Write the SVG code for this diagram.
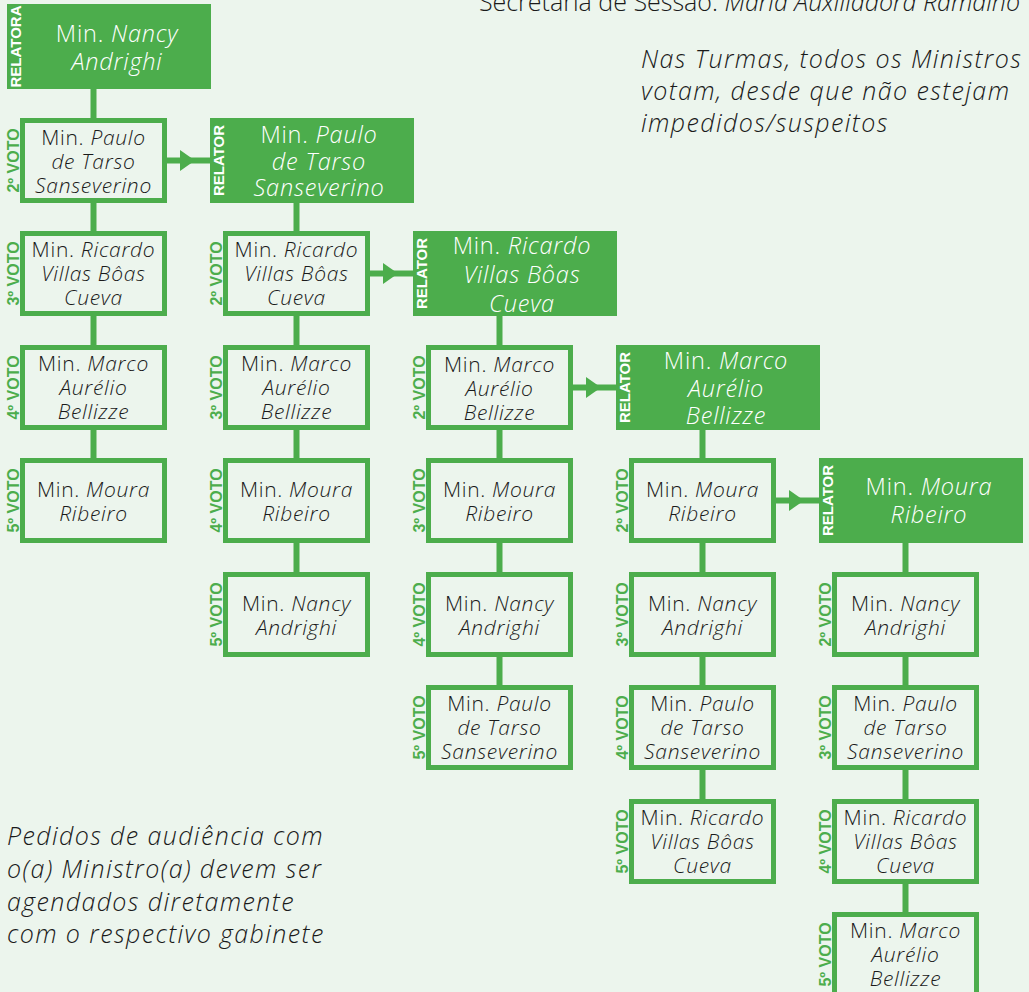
<svg xmlns="http://www.w3.org/2000/svg" width="1029" height="992" viewBox="0 0 1029 992">
<style>
.bg{fill:#ecf5ed}
.rel{fill:#4cad4c}
.vot{fill:#ecf5ed;stroke:#4cad4c;stroke-width:5}
.con{stroke:#4cad4c;stroke-width:6;fill:none}
.arr{fill:#4cad4c}
.lbl{font-family:"Liberation Sans",Arial,sans-serif;font-weight:bold;font-size:16px;fill:#4cad4c;text-anchor:middle}
.rlbl{fill:#ffffff;font-size:15px}
.t{font-family:"Open Sans","Liberation Sans",sans-serif;font-weight:300;text-anchor:middle}
.tw{fill:#ffffff;font-size:23.5px;letter-spacing:0.8px}
.tb{fill:#1a1a1a;font-size:21px;letter-spacing:0.7px}
.i{font-style:italic}
.note{font-family:"Open Sans","Liberation Sans",sans-serif;font-weight:300;font-size:25px;letter-spacing:1.4px;fill:#1a1a1a}
.sec{letter-spacing:0px}
</style>
<rect class="bg" x="0" y="0" width="1029" height="992"/>

<g id="connectors">
  <line class="con" x1="93.5" y1="89" x2="93.5" y2="458"/>
  <line class="con" x1="296.5" y1="203" x2="296.5" y2="572"/>
  <line class="con" x1="499.5" y1="316" x2="499.5" y2="685"/>
  <line class="con" x1="702.5" y1="430" x2="702.5" y2="799"/>
  <line class="con" x1="905.5" y1="543" x2="905.5" y2="912"/>
  <line class="con" x1="167" y1="160.5" x2="211" y2="160.5"/>
  <polygon class="arr" points="180,150 195,160.5 180,171"/>
  <line class="con" x1="370" y1="273.5" x2="414" y2="273.5"/>
  <polygon class="arr" points="383,263 398,273.5 383,284"/>
  <line class="con" x1="573" y1="387.5" x2="617" y2="387.5"/>
  <polygon class="arr" points="586,377 601,387.5 586,398"/>
  <line class="con" x1="776" y1="500.5" x2="820" y2="500.5"/>
  <polygon class="arr" points="789,490 804,500.5 789,511"/>
</g>

<!-- Column 1 -->
<g id="c1-relatora">
  <rect class="rel" x="7" y="4" width="204" height="85"/>
  <text class="lbl rlbl" transform="translate(21,46.5) rotate(-90)">RELATORA</text>
  <text class="t tw" x="117" y="42">Min. <tspan class="i">Nancy</tspan></text>
  <text class="t tw i" x="117" y="70">Andrighi</text>
</g>
<g id="c1-v2">
  <rect class="vot" x="22.5" y="120.5" width="142" height="80"/>
  <text class="lbl" transform="translate(19,160.5) rotate(-90)">2º VOTO</text>
  <text class="t tb" x="93.5" y="145">Min. <tspan class="i">Paulo</tspan></text>
  <text class="t tb i" x="93.5" y="169">de Tarso</text>
  <text class="t tb i" x="93.5" y="193">Sanseverino</text>
</g>
<g id="c1-v3">
  <rect class="vot" x="22.5" y="233.5" width="142" height="80"/>
  <text class="lbl" transform="translate(19,273.5) rotate(-90)">3º VOTO</text>
  <text class="t tb" x="93.5" y="257">Min. <tspan class="i">Ricardo</tspan></text>
  <text class="t tb i" x="93.5" y="281">Villas Bôas</text>
  <text class="t tb i" x="93.5" y="305">Cueva</text>
</g>
<g id="c1-v4">
  <rect class="vot" x="22.5" y="347.5" width="142" height="80"/>
  <text class="lbl" transform="translate(19,387.5) rotate(-90)">4º VOTO</text>
  <text class="t tb" x="93.5" y="371">Min. <tspan class="i">Marco</tspan></text>
  <text class="t tb i" x="93.5" y="395">Aurélio</text>
  <text class="t tb i" x="93.5" y="419">Bellizze</text>
</g>
<g id="c1-v5">
  <rect class="vot" x="22.5" y="460.5" width="142" height="80"/>
  <text class="lbl" transform="translate(19,500.5) rotate(-90)">5º VOTO</text>
  <text class="t tb" x="93.5" y="497">Min. <tspan class="i">Moura</tspan></text>
  <text class="t tb i" x="93.5" y="521">Ribeiro</text>
</g>

<!-- Column 2 -->
<g id="c2-relator">
  <rect class="rel" x="210" y="118" width="204" height="85"/>
  <text class="lbl rlbl" transform="translate(224,160.5) rotate(-90)">RELATOR</text>
  <text class="t tw" x="319" y="143">Min. <tspan class="i">Paulo</tspan></text>
  <text class="t tw i" x="319" y="170">de Tarso</text>
  <text class="t tw i" x="319" y="196">Sanseverino</text>
</g>
<g id="c2-v2">
  <rect class="vot" x="225.5" y="233.5" width="142" height="80"/>
  <text class="lbl" transform="translate(222,273.5) rotate(-90)">2º VOTO</text>
  <text class="t tb" x="296.5" y="257">Min. <tspan class="i">Ricardo</tspan></text>
  <text class="t tb i" x="296.5" y="281">Villas Bôas</text>
  <text class="t tb i" x="296.5" y="305">Cueva</text>
</g>
<g id="c2-v3">
  <rect class="vot" x="225.5" y="347.5" width="142" height="80"/>
  <text class="lbl" transform="translate(222,387.5) rotate(-90)">3º VOTO</text>
  <text class="t tb" x="296.5" y="371">Min. <tspan class="i">Marco</tspan></text>
  <text class="t tb i" x="296.5" y="395">Aurélio</text>
  <text class="t tb i" x="296.5" y="419">Bellizze</text>
</g>
<g id="c2-v4">
  <rect class="vot" x="225.5" y="460.5" width="142" height="80"/>
  <text class="lbl" transform="translate(222,500.5) rotate(-90)">4º VOTO</text>
  <text class="t tb" x="296.5" y="497">Min. <tspan class="i">Moura</tspan></text>
  <text class="t tb i" x="296.5" y="521">Ribeiro</text>
</g>
<g id="c2-v5">
  <rect class="vot" x="225.5" y="574.5" width="142" height="80"/>
  <text class="lbl" transform="translate(222,614.5) rotate(-90)">5º VOTO</text>
  <text class="t tb" x="296.5" y="611">Min. <tspan class="i">Nancy</tspan></text>
  <text class="t tb i" x="296.5" y="635">Andrighi</text>
</g>

<!-- Column 3 -->
<g id="c3-relator">
  <rect class="rel" x="413" y="231" width="204" height="85"/>
  <text class="lbl rlbl" transform="translate(427,273.5) rotate(-90)">RELATOR</text>
  <text class="t tw" x="522" y="254">Min. <tspan class="i">Ricardo</tspan></text>
  <text class="t tw i" x="522" y="283">Villas Bôas</text>
  <text class="t tw i" x="522" y="312">Cueva</text>
</g>
<g id="c3-v2">
  <rect class="vot" x="428.5" y="347.5" width="142" height="80"/>
  <text class="lbl" transform="translate(425,387.5) rotate(-90)">2º VOTO</text>
  <text class="t tb" x="499.5" y="372">Min. <tspan class="i">Marco</tspan></text>
  <text class="t tb i" x="499.5" y="396">Aurélio</text>
  <text class="t tb i" x="499.5" y="420">Bellizze</text>
</g>
<g id="c3-v3">
  <rect class="vot" x="428.5" y="460.5" width="142" height="80"/>
  <text class="lbl" transform="translate(425,500.5) rotate(-90)">3º VOTO</text>
  <text class="t tb" x="499.5" y="497">Min. <tspan class="i">Moura</tspan></text>
  <text class="t tb i" x="499.5" y="521">Ribeiro</text>
</g>
<g id="c3-v4">
  <rect class="vot" x="428.5" y="574.5" width="142" height="80"/>
  <text class="lbl" transform="translate(425,614.5) rotate(-90)">4º VOTO</text>
  <text class="t tb" x="499.5" y="611">Min. <tspan class="i">Nancy</tspan></text>
  <text class="t tb i" x="499.5" y="635">Andrighi</text>
</g>
<g id="c3-v5">
  <rect class="vot" x="428.5" y="687.5" width="142" height="80"/>
  <text class="lbl" transform="translate(425,727.5) rotate(-90)">5º VOTO</text>
  <text class="t tb" x="499.5" y="711">Min. <tspan class="i">Paulo</tspan></text>
  <text class="t tb i" x="499.5" y="735">de Tarso</text>
  <text class="t tb i" x="499.5" y="759">Sanseverino</text>
</g>

<!-- Column 4 -->
<g id="c4-relator">
  <rect class="rel" x="616" y="345" width="204" height="85"/>
  <text class="lbl rlbl" transform="translate(630,387.5) rotate(-90)">RELATOR</text>
  <text class="t tw" x="726" y="369">Min. <tspan class="i">Marco</tspan></text>
  <text class="t tw i" x="726" y="397">Aurélio</text>
  <text class="t tw i" x="726" y="424">Bellizze</text>
</g>
<g id="c4-v2">
  <rect class="vot" x="631.5" y="460.5" width="142" height="80"/>
  <text class="lbl" transform="translate(628,500.5) rotate(-90)">2º VOTO</text>
  <text class="t tb" x="702.5" y="497">Min. <tspan class="i">Moura</tspan></text>
  <text class="t tb i" x="702.5" y="521">Ribeiro</text>
</g>
<g id="c4-v3">
  <rect class="vot" x="631.5" y="574.5" width="142" height="80"/>
  <text class="lbl" transform="translate(628,614.5) rotate(-90)">3º VOTO</text>
  <text class="t tb" x="702.5" y="611">Min. <tspan class="i">Nancy</tspan></text>
  <text class="t tb i" x="702.5" y="635">Andrighi</text>
</g>
<g id="c4-v4">
  <rect class="vot" x="631.5" y="687.5" width="142" height="80"/>
  <text class="lbl" transform="translate(628,727.5) rotate(-90)">4º VOTO</text>
  <text class="t tb" x="702.5" y="711">Min. <tspan class="i">Paulo</tspan></text>
  <text class="t tb i" x="702.5" y="735">de Tarso</text>
  <text class="t tb i" x="702.5" y="759">Sanseverino</text>
</g>
<g id="c4-v5">
  <rect class="vot" x="631.5" y="801.5" width="142" height="80"/>
  <text class="lbl" transform="translate(628,841.5) rotate(-90)">5º VOTO</text>
  <text class="t tb" x="702.5" y="825">Min. <tspan class="i">Ricardo</tspan></text>
  <text class="t tb i" x="702.5" y="849">Villas Bôas</text>
  <text class="t tb i" x="702.5" y="873">Cueva</text>
</g>

<!-- Column 5 -->
<g id="c5-relator">
  <rect class="rel" x="819" y="458" width="204" height="85"/>
  <text class="lbl rlbl" transform="translate(833,500.5) rotate(-90)">RELATOR</text>
  <text class="t tw" x="929" y="495">Min. <tspan class="i">Moura</tspan></text>
  <text class="t tw i" x="929" y="523">Ribeiro</text>
</g>
<g id="c5-v2">
  <rect class="vot" x="834.5" y="574.5" width="142" height="80"/>
  <text class="lbl" transform="translate(831,614.5) rotate(-90)">2º VOTO</text>
  <text class="t tb" x="905.5" y="611">Min. <tspan class="i">Nancy</tspan></text>
  <text class="t tb i" x="905.5" y="635">Andrighi</text>
</g>
<g id="c5-v3">
  <rect class="vot" x="834.5" y="687.5" width="142" height="80"/>
  <text class="lbl" transform="translate(831,727.5) rotate(-90)">3º VOTO</text>
  <text class="t tb" x="905.5" y="711">Min. <tspan class="i">Paulo</tspan></text>
  <text class="t tb i" x="905.5" y="735">de Tarso</text>
  <text class="t tb i" x="905.5" y="759">Sanseverino</text>
</g>
<g id="c5-v4">
  <rect class="vot" x="834.5" y="801.5" width="142" height="80"/>
  <text class="lbl" transform="translate(831,841.5) rotate(-90)">4º VOTO</text>
  <text class="t tb" x="905.5" y="825">Min. <tspan class="i">Ricardo</tspan></text>
  <text class="t tb i" x="905.5" y="849">Villas Bôas</text>
  <text class="t tb i" x="905.5" y="873">Cueva</text>
</g>
<g id="c5-v5">
  <rect class="vot" x="834.5" y="914.5" width="142" height="80"/>
  <text class="lbl" transform="translate(831,954.5) rotate(-90)">5º VOTO</text>
  <text class="t tb" x="905.5" y="938">Min. <tspan class="i">Marco</tspan></text>
  <text class="t tb i" x="905.5" y="962">Aurélio</text>
  <text class="t tb i" x="905.5" y="986">Bellizze</text>
</g>

<g id="notes">
  <text class="note sec" x="1020" y="11" text-anchor="end">Secretaria de Sessão: <tspan class="i">Maria Auxiliadora Ramalho</tspan></text>
  <text class="note i" x="641" y="68">Nas Turmas, todos os Ministros</text>
  <text class="note i" x="641" y="100">votam, desde que não estejam</text>
  <text class="note i" x="641" y="132">impedidos/suspeitos</text>
  <text class="note i" x="7" y="845">Pedidos de audiência com</text>
  <text class="note i" x="7" y="878">o(a) Ministro(a) devem ser</text>
  <text class="note i" x="7" y="911">agendados diretamente</text>
  <text class="note i" x="7" y="943">com o respectivo gabinete</text>
</g>
</svg>
